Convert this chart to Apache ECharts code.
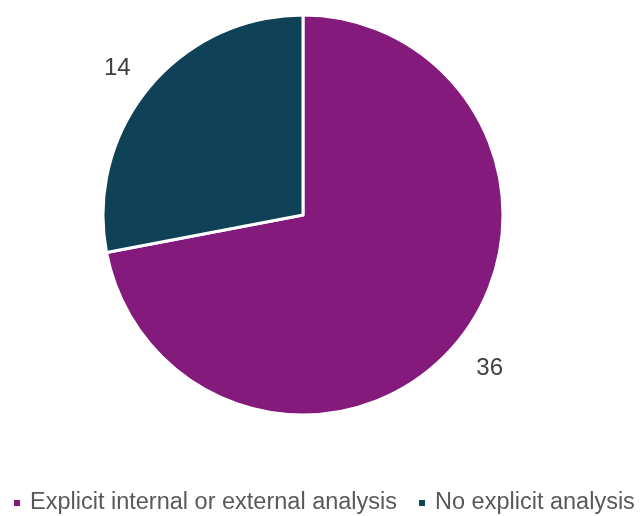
<!DOCTYPE html>
<html>
<head>
<meta charset="utf-8">
<script src="https://cdn.jsdelivr.net/npm/echarts@6/dist/echarts.min.js"></script>
<style>
  html, body { margin: 0; padding: 0; background: #ffffff; }
  #chart { width: 642px; height: 516px; }
</style>
</head>
<body>
<div id="chart"></div>
<script>
// Categories and counts shown in the pie
const categories = ['Explicit internal or external analysis', 'No explicit analysis'];
const counts = [36, 14];
const sliceColors = ['#841a7b', '#0f4157'];
// small nudges for the value labels (second label sits a bit lower)
const labelOffsets = [[1, 0], [0, 7]];

const pieData = categories.map((name, i) => ({
  name: name,
  value: counts[i],
  itemStyle: { color: sliceColors[i] }
}));

const chart = echarts.init(document.getElementById('chart'), null, { renderer: 'canvas' });

chart.setOption({
  animation: false,
  backgroundColor: '#ffffff',
  legend: {
    bottom: 1,
    left: 12,
    padding: 0,
    icon: 'rect',
    itemWidth: 8,
    itemHeight: 8,
    itemGap: 20,
    selectedMode: false,
    data: categories,
    textStyle: {
      fontFamily: 'Liberation Sans, Arial, sans-serif',
      fontSize: 23.5,
      color: '#595959',
      padding: [0, 0, 0, 4]
    }
  },
  series: [
    {
      type: 'pie',
      center: [303, 215],
      radius: 200,
      startAngle: 90,
      clockwise: true,
      silent: true,
      itemStyle: { borderColor: '#ffffff', borderWidth: 3 },
      label: { show: false },
      labelLine: { show: false },
      data: pieData
    },
    {
      // transparent ring carrying the value labels just outside the slices
      type: 'pie',
      center: [303, 215],
      radius: [218, 258],
      startAngle: 90,
      clockwise: true,
      silent: true,
      itemStyle: { color: 'rgba(0,0,0,0)' },
      label: {
        show: true,
        position: 'inside',
        formatter: '{c}',
        fontFamily: 'Liberation Sans, Arial, sans-serif',
        fontSize: 24,
        color: '#404040'
      },
      labelLine: { show: false },
      data: categories.map((name, i) => ({
        name: name,
        value: counts[i],
        label: { offset: labelOffsets[i] }
      }))
    }
  ]
});
</script>
</body>
</html>
